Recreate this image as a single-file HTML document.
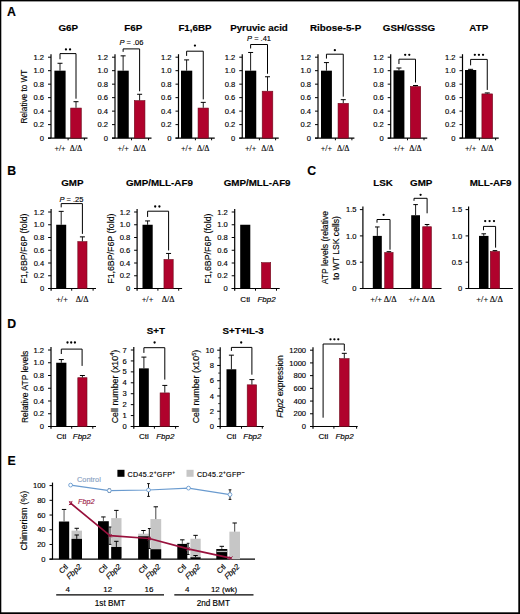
<!DOCTYPE html>
<html><head><meta charset="utf-8"><style>
html,body{margin:0;padding:0;background:#fff;}
body{width:520px;height:614px;overflow:hidden;font-family:"Liberation Sans", sans-serif;}
svg{display:block;}
text{stroke:#000;stroke-width:0.15px;}
</style></head><body>
<svg width="520" height="614" viewBox="0 0 520 614">
<rect x="0" y="0" width="520" height="614" fill="#fff"/>
<text x="7.00" y="16.00" font-size="12.3" text-anchor="start" font-weight="bold" fill="#000" font-family='"Liberation Sans", sans-serif'>A</text>
<line x1="51.00" y1="138.10" x2="51.00" y2="54.20" stroke="#000" stroke-width="1.2"/>
<line x1="48.00" y1="138.10" x2="51.00" y2="138.10" stroke="#000" stroke-width="1.0"/>
<text x="44.10" y="140.70" font-size="7.6" text-anchor="end" fill="#000" font-family='"Liberation Sans", sans-serif'>0</text>
<line x1="48.00" y1="124.62" x2="51.00" y2="124.62" stroke="#000" stroke-width="1.0"/>
<text x="44.10" y="127.22" font-size="7.6" text-anchor="end" fill="#000" font-family='"Liberation Sans", sans-serif'>0.2</text>
<line x1="48.00" y1="111.13" x2="51.00" y2="111.13" stroke="#000" stroke-width="1.0"/>
<text x="44.10" y="113.73" font-size="7.6" text-anchor="end" fill="#000" font-family='"Liberation Sans", sans-serif'>0.4</text>
<line x1="48.00" y1="97.65" x2="51.00" y2="97.65" stroke="#000" stroke-width="1.0"/>
<text x="44.10" y="100.25" font-size="7.6" text-anchor="end" fill="#000" font-family='"Liberation Sans", sans-serif'>0.6</text>
<line x1="48.00" y1="84.17" x2="51.00" y2="84.17" stroke="#000" stroke-width="1.0"/>
<text x="44.10" y="86.77" font-size="7.6" text-anchor="end" fill="#000" font-family='"Liberation Sans", sans-serif'>0.8</text>
<line x1="48.00" y1="70.68" x2="51.00" y2="70.68" stroke="#000" stroke-width="1.0"/>
<text x="44.10" y="73.28" font-size="7.6" text-anchor="end" fill="#000" font-family='"Liberation Sans", sans-serif'>1.0</text>
<line x1="48.00" y1="57.20" x2="51.00" y2="57.20" stroke="#000" stroke-width="1.0"/>
<text x="44.10" y="59.80" font-size="7.6" text-anchor="end" fill="#000" font-family='"Liberation Sans", sans-serif'>1.2</text>
<line x1="48.00" y1="138.10" x2="87.50" y2="138.10" stroke="#000" stroke-width="1.2"/>
<line x1="68.10" y1="138.10" x2="68.10" y2="140.30" stroke="#000" stroke-width="1.0"/>
<line x1="84.40" y1="138.10" x2="84.40" y2="140.30" stroke="#000" stroke-width="1.0"/>
<rect x="54.40" y="70.68" width="11.20" height="67.42" fill="#000"/>
<line x1="60.00" y1="70.68" x2="60.00" y2="63.27" stroke="#000" stroke-width="0.9"/>
<line x1="57.50" y1="63.27" x2="62.50" y2="63.27" stroke="#000" stroke-width="1.0"/>
<rect x="70.70" y="108.06" width="10.60" height="30.04" fill="#b0022c" stroke="#6e0a1c" stroke-width="0.6"/>
<line x1="76.00" y1="107.76" x2="76.00" y2="101.69" stroke="#000" stroke-width="0.9"/>
<line x1="73.50" y1="101.69" x2="78.50" y2="101.69" stroke="#000" stroke-width="1.0"/>
<path d="M60.00 59.27V53.60H76.00V98.69" fill="none" stroke="#000" stroke-width="1.0"/>
<circle cx="65.95" cy="49.40" r="1.15" fill="#000"/>
<circle cx="70.05" cy="49.40" r="1.15" fill="#000"/>
<text x="68.20" y="30.60" font-size="9.8" text-anchor="middle" font-weight="bold" fill="#000" font-family='"Liberation Sans", sans-serif'>G6P</text>
<text x="60.00" y="150.80" font-size="8.0" text-anchor="middle" fill="#000" font-family='"Liberation Serif", serif'>+/+</text>
<text x="76.00" y="150.80" font-size="8.0" text-anchor="middle" fill="#000" font-family='"Liberation Serif", serif'>&#916;/&#916;</text>
<line x1="115.00" y1="138.10" x2="115.00" y2="54.20" stroke="#000" stroke-width="1.2"/>
<line x1="112.00" y1="138.10" x2="115.00" y2="138.10" stroke="#000" stroke-width="1.0"/>
<text x="108.10" y="140.70" font-size="7.6" text-anchor="end" fill="#000" font-family='"Liberation Sans", sans-serif'>0</text>
<line x1="112.00" y1="124.62" x2="115.00" y2="124.62" stroke="#000" stroke-width="1.0"/>
<text x="108.10" y="127.22" font-size="7.6" text-anchor="end" fill="#000" font-family='"Liberation Sans", sans-serif'>0.2</text>
<line x1="112.00" y1="111.13" x2="115.00" y2="111.13" stroke="#000" stroke-width="1.0"/>
<text x="108.10" y="113.73" font-size="7.6" text-anchor="end" fill="#000" font-family='"Liberation Sans", sans-serif'>0.4</text>
<line x1="112.00" y1="97.65" x2="115.00" y2="97.65" stroke="#000" stroke-width="1.0"/>
<text x="108.10" y="100.25" font-size="7.6" text-anchor="end" fill="#000" font-family='"Liberation Sans", sans-serif'>0.6</text>
<line x1="112.00" y1="84.17" x2="115.00" y2="84.17" stroke="#000" stroke-width="1.0"/>
<text x="108.10" y="86.77" font-size="7.6" text-anchor="end" fill="#000" font-family='"Liberation Sans", sans-serif'>0.8</text>
<line x1="112.00" y1="70.68" x2="115.00" y2="70.68" stroke="#000" stroke-width="1.0"/>
<text x="108.10" y="73.28" font-size="7.6" text-anchor="end" fill="#000" font-family='"Liberation Sans", sans-serif'>1.0</text>
<line x1="112.00" y1="57.20" x2="115.00" y2="57.20" stroke="#000" stroke-width="1.0"/>
<text x="108.10" y="59.80" font-size="7.6" text-anchor="end" fill="#000" font-family='"Liberation Sans", sans-serif'>1.2</text>
<line x1="112.00" y1="138.10" x2="151.50" y2="138.10" stroke="#000" stroke-width="1.2"/>
<line x1="131.50" y1="138.10" x2="131.50" y2="140.30" stroke="#000" stroke-width="1.0"/>
<line x1="148.50" y1="138.10" x2="148.50" y2="140.30" stroke="#000" stroke-width="1.0"/>
<rect x="117.50" y="70.68" width="11.25" height="67.42" fill="#000"/>
<line x1="123.12" y1="70.68" x2="123.12" y2="55.85" stroke="#000" stroke-width="0.9"/>
<line x1="120.62" y1="55.85" x2="125.62" y2="55.85" stroke="#000" stroke-width="1.0"/>
<rect x="134.30" y="100.65" width="10.65" height="37.45" fill="#b0022c" stroke="#6e0a1c" stroke-width="0.6"/>
<line x1="139.62" y1="100.35" x2="139.62" y2="94.28" stroke="#000" stroke-width="0.9"/>
<line x1="137.12" y1="94.28" x2="142.12" y2="94.28" stroke="#000" stroke-width="1.0"/>
<path d="M123.12 51.85V48.90H139.62V91.28" fill="none" stroke="#000" stroke-width="1.0"/>
<text x="131.38" y="45.40" font-size="7.5" text-anchor="middle" fill="#000" font-family='"Liberation Sans", sans-serif'><tspan font-style="italic">P</tspan> = .06</text>
<text x="133.30" y="30.60" font-size="9.8" text-anchor="middle" font-weight="bold" fill="#000" font-family='"Liberation Sans", sans-serif'>F6P</text>
<text x="123.12" y="150.80" font-size="8.0" text-anchor="middle" fill="#000" font-family='"Liberation Serif", serif'>+/+</text>
<text x="139.62" y="150.80" font-size="8.0" text-anchor="middle" fill="#000" font-family='"Liberation Serif", serif'>&#916;/&#916;</text>
<line x1="178.50" y1="138.10" x2="178.50" y2="54.20" stroke="#000" stroke-width="1.2"/>
<line x1="175.50" y1="138.10" x2="178.50" y2="138.10" stroke="#000" stroke-width="1.0"/>
<text x="171.60" y="140.70" font-size="7.6" text-anchor="end" fill="#000" font-family='"Liberation Sans", sans-serif'>0</text>
<line x1="175.50" y1="124.62" x2="178.50" y2="124.62" stroke="#000" stroke-width="1.0"/>
<text x="171.60" y="127.22" font-size="7.6" text-anchor="end" fill="#000" font-family='"Liberation Sans", sans-serif'>0.2</text>
<line x1="175.50" y1="111.13" x2="178.50" y2="111.13" stroke="#000" stroke-width="1.0"/>
<text x="171.60" y="113.73" font-size="7.6" text-anchor="end" fill="#000" font-family='"Liberation Sans", sans-serif'>0.4</text>
<line x1="175.50" y1="97.65" x2="178.50" y2="97.65" stroke="#000" stroke-width="1.0"/>
<text x="171.60" y="100.25" font-size="7.6" text-anchor="end" fill="#000" font-family='"Liberation Sans", sans-serif'>0.6</text>
<line x1="175.50" y1="84.17" x2="178.50" y2="84.17" stroke="#000" stroke-width="1.0"/>
<text x="171.60" y="86.77" font-size="7.6" text-anchor="end" fill="#000" font-family='"Liberation Sans", sans-serif'>0.8</text>
<line x1="175.50" y1="70.68" x2="178.50" y2="70.68" stroke="#000" stroke-width="1.0"/>
<text x="171.60" y="73.28" font-size="7.6" text-anchor="end" fill="#000" font-family='"Liberation Sans", sans-serif'>1.0</text>
<line x1="175.50" y1="57.20" x2="178.50" y2="57.20" stroke="#000" stroke-width="1.0"/>
<text x="171.60" y="59.80" font-size="7.6" text-anchor="end" fill="#000" font-family='"Liberation Sans", sans-serif'>1.2</text>
<line x1="175.50" y1="138.10" x2="214.75" y2="138.10" stroke="#000" stroke-width="1.2"/>
<line x1="195.40" y1="138.10" x2="195.40" y2="140.30" stroke="#000" stroke-width="1.0"/>
<line x1="211.60" y1="138.10" x2="211.60" y2="140.30" stroke="#000" stroke-width="1.0"/>
<rect x="181.00" y="70.68" width="11.25" height="67.42" fill="#000"/>
<line x1="186.62" y1="70.68" x2="186.62" y2="59.90" stroke="#000" stroke-width="0.9"/>
<line x1="184.12" y1="59.90" x2="189.12" y2="59.90" stroke="#000" stroke-width="1.0"/>
<rect x="198.05" y="108.06" width="10.40" height="30.04" fill="#b0022c" stroke="#6e0a1c" stroke-width="0.6"/>
<line x1="203.25" y1="107.76" x2="203.25" y2="102.37" stroke="#000" stroke-width="0.9"/>
<line x1="200.75" y1="102.37" x2="205.75" y2="102.37" stroke="#000" stroke-width="1.0"/>
<path d="M186.62 55.90V51.20H203.25V99.37" fill="none" stroke="#000" stroke-width="1.0"/>
<circle cx="194.94" cy="45.60" r="1.15" fill="#000"/>
<text x="195.00" y="30.60" font-size="9.8" text-anchor="middle" font-weight="bold" fill="#000" font-family='"Liberation Sans", sans-serif'>F1,6BP</text>
<text x="186.62" y="150.80" font-size="8.0" text-anchor="middle" fill="#000" font-family='"Liberation Serif", serif'>+/+</text>
<text x="203.25" y="150.80" font-size="8.0" text-anchor="middle" fill="#000" font-family='"Liberation Serif", serif'>&#916;/&#916;</text>
<line x1="242.25" y1="138.10" x2="242.25" y2="54.20" stroke="#000" stroke-width="1.2"/>
<line x1="239.25" y1="138.10" x2="242.25" y2="138.10" stroke="#000" stroke-width="1.0"/>
<text x="235.35" y="140.70" font-size="7.6" text-anchor="end" fill="#000" font-family='"Liberation Sans", sans-serif'>0</text>
<line x1="239.25" y1="124.62" x2="242.25" y2="124.62" stroke="#000" stroke-width="1.0"/>
<text x="235.35" y="127.22" font-size="7.6" text-anchor="end" fill="#000" font-family='"Liberation Sans", sans-serif'>0.2</text>
<line x1="239.25" y1="111.13" x2="242.25" y2="111.13" stroke="#000" stroke-width="1.0"/>
<text x="235.35" y="113.73" font-size="7.6" text-anchor="end" fill="#000" font-family='"Liberation Sans", sans-serif'>0.4</text>
<line x1="239.25" y1="97.65" x2="242.25" y2="97.65" stroke="#000" stroke-width="1.0"/>
<text x="235.35" y="100.25" font-size="7.6" text-anchor="end" fill="#000" font-family='"Liberation Sans", sans-serif'>0.6</text>
<line x1="239.25" y1="84.17" x2="242.25" y2="84.17" stroke="#000" stroke-width="1.0"/>
<text x="235.35" y="86.77" font-size="7.6" text-anchor="end" fill="#000" font-family='"Liberation Sans", sans-serif'>0.8</text>
<line x1="239.25" y1="70.68" x2="242.25" y2="70.68" stroke="#000" stroke-width="1.0"/>
<text x="235.35" y="73.28" font-size="7.6" text-anchor="end" fill="#000" font-family='"Liberation Sans", sans-serif'>1.0</text>
<line x1="239.25" y1="57.20" x2="242.25" y2="57.20" stroke="#000" stroke-width="1.0"/>
<text x="235.35" y="59.80" font-size="7.6" text-anchor="end" fill="#000" font-family='"Liberation Sans", sans-serif'>1.2</text>
<line x1="239.25" y1="138.10" x2="278.75" y2="138.10" stroke="#000" stroke-width="1.2"/>
<line x1="259.40" y1="138.10" x2="259.40" y2="140.30" stroke="#000" stroke-width="1.0"/>
<line x1="275.60" y1="138.10" x2="275.60" y2="140.30" stroke="#000" stroke-width="1.0"/>
<rect x="245.00" y="70.68" width="11.25" height="67.42" fill="#000"/>
<line x1="250.62" y1="70.68" x2="250.62" y2="52.48" stroke="#000" stroke-width="0.9"/>
<line x1="248.12" y1="52.48" x2="253.12" y2="52.48" stroke="#000" stroke-width="1.0"/>
<rect x="262.20" y="91.21" width="10.60" height="46.89" fill="#b0022c" stroke="#6e0a1c" stroke-width="0.6"/>
<line x1="267.50" y1="90.91" x2="267.50" y2="76.75" stroke="#000" stroke-width="0.9"/>
<line x1="265.00" y1="76.75" x2="270.00" y2="76.75" stroke="#000" stroke-width="1.0"/>
<path d="M250.62 48.48V44.50H267.50V73.75" fill="none" stroke="#000" stroke-width="1.0"/>
<text x="259.06" y="40.60" font-size="7.5" text-anchor="middle" fill="#000" font-family='"Liberation Sans", sans-serif'><tspan font-style="italic">P</tspan> = .41</text>
<text x="259.00" y="30.60" font-size="9.8" text-anchor="middle" font-weight="bold" fill="#000" font-family='"Liberation Sans", sans-serif'>Pyruvic acid</text>
<text x="250.62" y="150.80" font-size="8.0" text-anchor="middle" fill="#000" font-family='"Liberation Serif", serif'>+/+</text>
<text x="267.50" y="150.80" font-size="8.0" text-anchor="middle" fill="#000" font-family='"Liberation Serif", serif'>&#916;/&#916;</text>
<line x1="318.00" y1="138.10" x2="318.00" y2="54.20" stroke="#000" stroke-width="1.2"/>
<line x1="315.00" y1="138.10" x2="318.00" y2="138.10" stroke="#000" stroke-width="1.0"/>
<text x="311.10" y="140.70" font-size="7.6" text-anchor="end" fill="#000" font-family='"Liberation Sans", sans-serif'>0</text>
<line x1="315.00" y1="124.62" x2="318.00" y2="124.62" stroke="#000" stroke-width="1.0"/>
<text x="311.10" y="127.22" font-size="7.6" text-anchor="end" fill="#000" font-family='"Liberation Sans", sans-serif'>0.2</text>
<line x1="315.00" y1="111.13" x2="318.00" y2="111.13" stroke="#000" stroke-width="1.0"/>
<text x="311.10" y="113.73" font-size="7.6" text-anchor="end" fill="#000" font-family='"Liberation Sans", sans-serif'>0.4</text>
<line x1="315.00" y1="97.65" x2="318.00" y2="97.65" stroke="#000" stroke-width="1.0"/>
<text x="311.10" y="100.25" font-size="7.6" text-anchor="end" fill="#000" font-family='"Liberation Sans", sans-serif'>0.6</text>
<line x1="315.00" y1="84.17" x2="318.00" y2="84.17" stroke="#000" stroke-width="1.0"/>
<text x="311.10" y="86.77" font-size="7.6" text-anchor="end" fill="#000" font-family='"Liberation Sans", sans-serif'>0.8</text>
<line x1="315.00" y1="70.68" x2="318.00" y2="70.68" stroke="#000" stroke-width="1.0"/>
<text x="311.10" y="73.28" font-size="7.6" text-anchor="end" fill="#000" font-family='"Liberation Sans", sans-serif'>1.0</text>
<line x1="315.00" y1="57.20" x2="318.00" y2="57.20" stroke="#000" stroke-width="1.0"/>
<text x="311.10" y="59.80" font-size="7.6" text-anchor="end" fill="#000" font-family='"Liberation Sans", sans-serif'>1.2</text>
<line x1="315.00" y1="138.10" x2="354.40" y2="138.10" stroke="#000" stroke-width="1.2"/>
<line x1="335.40" y1="138.10" x2="335.40" y2="140.30" stroke="#000" stroke-width="1.0"/>
<line x1="351.90" y1="138.10" x2="351.90" y2="140.30" stroke="#000" stroke-width="1.0"/>
<rect x="321.00" y="70.68" width="10.90" height="67.42" fill="#000"/>
<line x1="326.45" y1="70.68" x2="326.45" y2="62.59" stroke="#000" stroke-width="0.9"/>
<line x1="323.95" y1="62.59" x2="328.95" y2="62.59" stroke="#000" stroke-width="1.0"/>
<rect x="338.05" y="103.34" width="10.40" height="34.76" fill="#b0022c" stroke="#6e0a1c" stroke-width="0.6"/>
<line x1="343.25" y1="103.04" x2="343.25" y2="99.67" stroke="#000" stroke-width="0.9"/>
<line x1="340.75" y1="99.67" x2="345.75" y2="99.67" stroke="#000" stroke-width="1.0"/>
<path d="M326.45 58.59V54.20H343.25V96.67" fill="none" stroke="#000" stroke-width="1.0"/>
<circle cx="334.85" cy="50.20" r="1.15" fill="#000"/>
<text x="335.60" y="30.60" font-size="9.8" text-anchor="middle" font-weight="bold" fill="#000" font-family='"Liberation Sans", sans-serif'>Ribose-5-P</text>
<text x="326.45" y="150.80" font-size="8.0" text-anchor="middle" fill="#000" font-family='"Liberation Serif", serif'>+/+</text>
<text x="343.25" y="150.80" font-size="8.0" text-anchor="middle" fill="#000" font-family='"Liberation Serif", serif'>&#916;/&#916;</text>
<line x1="390.70" y1="138.10" x2="390.70" y2="54.20" stroke="#000" stroke-width="1.2"/>
<line x1="387.70" y1="138.10" x2="390.70" y2="138.10" stroke="#000" stroke-width="1.0"/>
<text x="383.80" y="140.70" font-size="7.6" text-anchor="end" fill="#000" font-family='"Liberation Sans", sans-serif'>0</text>
<line x1="387.70" y1="124.62" x2="390.70" y2="124.62" stroke="#000" stroke-width="1.0"/>
<text x="383.80" y="127.22" font-size="7.6" text-anchor="end" fill="#000" font-family='"Liberation Sans", sans-serif'>0.2</text>
<line x1="387.70" y1="111.13" x2="390.70" y2="111.13" stroke="#000" stroke-width="1.0"/>
<text x="383.80" y="113.73" font-size="7.6" text-anchor="end" fill="#000" font-family='"Liberation Sans", sans-serif'>0.4</text>
<line x1="387.70" y1="97.65" x2="390.70" y2="97.65" stroke="#000" stroke-width="1.0"/>
<text x="383.80" y="100.25" font-size="7.6" text-anchor="end" fill="#000" font-family='"Liberation Sans", sans-serif'>0.6</text>
<line x1="387.70" y1="84.17" x2="390.70" y2="84.17" stroke="#000" stroke-width="1.0"/>
<text x="383.80" y="86.77" font-size="7.6" text-anchor="end" fill="#000" font-family='"Liberation Sans", sans-serif'>0.8</text>
<line x1="387.70" y1="70.68" x2="390.70" y2="70.68" stroke="#000" stroke-width="1.0"/>
<text x="383.80" y="73.28" font-size="7.6" text-anchor="end" fill="#000" font-family='"Liberation Sans", sans-serif'>1.0</text>
<line x1="387.70" y1="57.20" x2="390.70" y2="57.20" stroke="#000" stroke-width="1.0"/>
<text x="383.80" y="59.80" font-size="7.6" text-anchor="end" fill="#000" font-family='"Liberation Sans", sans-serif'>1.2</text>
<line x1="387.70" y1="138.10" x2="427.25" y2="138.10" stroke="#000" stroke-width="1.2"/>
<line x1="407.50" y1="138.10" x2="407.50" y2="140.30" stroke="#000" stroke-width="1.0"/>
<line x1="424.00" y1="138.10" x2="424.00" y2="140.30" stroke="#000" stroke-width="1.0"/>
<rect x="393.50" y="70.35" width="10.90" height="67.75" fill="#000"/>
<line x1="398.95" y1="70.35" x2="398.95" y2="67.99" stroke="#000" stroke-width="0.9"/>
<line x1="396.45" y1="67.99" x2="401.45" y2="67.99" stroke="#000" stroke-width="1.0"/>
<rect x="410.30" y="86.49" width="10.40" height="51.61" fill="#b0022c" stroke="#6e0a1c" stroke-width="0.6"/>
<line x1="415.50" y1="86.19" x2="415.50" y2="85.52" stroke="#000" stroke-width="0.9"/>
<line x1="413.00" y1="85.52" x2="418.00" y2="85.52" stroke="#000" stroke-width="1.0"/>
<path d="M398.95 63.99V59.20H415.50V82.52" fill="none" stroke="#000" stroke-width="1.0"/>
<circle cx="405.18" cy="54.80" r="1.15" fill="#000"/>
<circle cx="409.28" cy="54.80" r="1.15" fill="#000"/>
<text x="409.00" y="30.60" font-size="9.8" text-anchor="middle" font-weight="bold" fill="#000" font-family='"Liberation Sans", sans-serif'>GSH/GSSG</text>
<text x="398.95" y="150.80" font-size="8.0" text-anchor="middle" fill="#000" font-family='"Liberation Serif", serif'>+/+</text>
<text x="415.50" y="150.80" font-size="8.0" text-anchor="middle" fill="#000" font-family='"Liberation Serif", serif'>&#916;/&#916;</text>
<line x1="462.50" y1="138.10" x2="462.50" y2="54.20" stroke="#000" stroke-width="1.2"/>
<line x1="459.50" y1="138.10" x2="462.50" y2="138.10" stroke="#000" stroke-width="1.0"/>
<text x="455.60" y="140.70" font-size="7.6" text-anchor="end" fill="#000" font-family='"Liberation Sans", sans-serif'>0</text>
<line x1="459.50" y1="124.62" x2="462.50" y2="124.62" stroke="#000" stroke-width="1.0"/>
<text x="455.60" y="127.22" font-size="7.6" text-anchor="end" fill="#000" font-family='"Liberation Sans", sans-serif'>0.2</text>
<line x1="459.50" y1="111.13" x2="462.50" y2="111.13" stroke="#000" stroke-width="1.0"/>
<text x="455.60" y="113.73" font-size="7.6" text-anchor="end" fill="#000" font-family='"Liberation Sans", sans-serif'>0.4</text>
<line x1="459.50" y1="97.65" x2="462.50" y2="97.65" stroke="#000" stroke-width="1.0"/>
<text x="455.60" y="100.25" font-size="7.6" text-anchor="end" fill="#000" font-family='"Liberation Sans", sans-serif'>0.6</text>
<line x1="459.50" y1="84.17" x2="462.50" y2="84.17" stroke="#000" stroke-width="1.0"/>
<text x="455.60" y="86.77" font-size="7.6" text-anchor="end" fill="#000" font-family='"Liberation Sans", sans-serif'>0.8</text>
<line x1="459.50" y1="70.68" x2="462.50" y2="70.68" stroke="#000" stroke-width="1.0"/>
<text x="455.60" y="73.28" font-size="7.6" text-anchor="end" fill="#000" font-family='"Liberation Sans", sans-serif'>1.0</text>
<line x1="459.50" y1="57.20" x2="462.50" y2="57.20" stroke="#000" stroke-width="1.0"/>
<text x="455.60" y="59.80" font-size="7.6" text-anchor="end" fill="#000" font-family='"Liberation Sans", sans-serif'>1.2</text>
<line x1="459.50" y1="138.10" x2="498.75" y2="138.10" stroke="#000" stroke-width="1.2"/>
<line x1="479.40" y1="138.10" x2="479.40" y2="140.30" stroke="#000" stroke-width="1.0"/>
<line x1="495.60" y1="138.10" x2="495.60" y2="140.30" stroke="#000" stroke-width="1.0"/>
<rect x="465.00" y="70.01" width="11.25" height="68.09" fill="#000"/>
<line x1="470.62" y1="70.01" x2="470.62" y2="69.34" stroke="#000" stroke-width="0.9"/>
<line x1="468.12" y1="69.34" x2="473.12" y2="69.34" stroke="#000" stroke-width="1.0"/>
<rect x="481.90" y="93.90" width="10.70" height="44.20" fill="#b0022c" stroke="#6e0a1c" stroke-width="0.6"/>
<line x1="487.25" y1="93.60" x2="487.25" y2="92.93" stroke="#000" stroke-width="0.9"/>
<line x1="484.75" y1="92.93" x2="489.75" y2="92.93" stroke="#000" stroke-width="1.0"/>
<path d="M470.62 65.34V59.40H487.25V89.93" fill="none" stroke="#000" stroke-width="1.0"/>
<circle cx="474.84" cy="54.80" r="1.15" fill="#000"/>
<circle cx="478.94" cy="54.80" r="1.15" fill="#000"/>
<circle cx="483.04" cy="54.80" r="1.15" fill="#000"/>
<text x="478.80" y="30.60" font-size="9.8" text-anchor="middle" font-weight="bold" fill="#000" font-family='"Liberation Sans", sans-serif'>ATP</text>
<text x="470.62" y="150.80" font-size="8.0" text-anchor="middle" fill="#000" font-family='"Liberation Serif", serif'>+/+</text>
<text x="487.25" y="150.80" font-size="8.0" text-anchor="middle" fill="#000" font-family='"Liberation Serif", serif'>&#916;/&#916;</text>
<text x="27.40" y="96.60" font-size="8.2" text-anchor="middle" fill="#000" font-family='"Liberation Sans", sans-serif' transform="rotate(-90 27.40 96.60)">Relative to WT</text>
<text x="7.30" y="174.70" font-size="12.3" text-anchor="start" font-weight="bold" fill="#000" font-family='"Liberation Sans", sans-serif'>B</text>
<line x1="51.10" y1="290.70" x2="51.10" y2="209.00" stroke="#000" stroke-width="1.2"/>
<line x1="48.10" y1="288.50" x2="51.10" y2="288.50" stroke="#000" stroke-width="1.0"/>
<text x="44.20" y="291.10" font-size="7.6" text-anchor="end" fill="#000" font-family='"Liberation Sans", sans-serif'>0</text>
<line x1="48.10" y1="275.75" x2="51.10" y2="275.75" stroke="#000" stroke-width="1.0"/>
<text x="44.20" y="278.35" font-size="7.6" text-anchor="end" fill="#000" font-family='"Liberation Sans", sans-serif'>0.2</text>
<line x1="48.10" y1="263.00" x2="51.10" y2="263.00" stroke="#000" stroke-width="1.0"/>
<text x="44.20" y="265.60" font-size="7.6" text-anchor="end" fill="#000" font-family='"Liberation Sans", sans-serif'>0.4</text>
<line x1="48.10" y1="250.25" x2="51.10" y2="250.25" stroke="#000" stroke-width="1.0"/>
<text x="44.20" y="252.85" font-size="7.6" text-anchor="end" fill="#000" font-family='"Liberation Sans", sans-serif'>0.6</text>
<line x1="48.10" y1="237.50" x2="51.10" y2="237.50" stroke="#000" stroke-width="1.0"/>
<text x="44.20" y="240.10" font-size="7.6" text-anchor="end" fill="#000" font-family='"Liberation Sans", sans-serif'>0.8</text>
<line x1="48.10" y1="224.75" x2="51.10" y2="224.75" stroke="#000" stroke-width="1.0"/>
<text x="44.20" y="227.35" font-size="7.6" text-anchor="end" fill="#000" font-family='"Liberation Sans", sans-serif'>1.0</text>
<line x1="48.10" y1="212.00" x2="51.10" y2="212.00" stroke="#000" stroke-width="1.0"/>
<text x="44.20" y="214.60" font-size="7.6" text-anchor="end" fill="#000" font-family='"Liberation Sans", sans-serif'>1.2</text>
<line x1="48.10" y1="288.50" x2="96.00" y2="288.50" stroke="#000" stroke-width="1.2"/>
<line x1="71.70" y1="288.50" x2="71.70" y2="290.70" stroke="#000" stroke-width="1.0"/>
<line x1="93.10" y1="288.50" x2="93.10" y2="290.70" stroke="#000" stroke-width="1.0"/>
<rect x="56.20" y="224.75" width="10.00" height="63.75" fill="#000"/>
<line x1="61.20" y1="224.75" x2="61.20" y2="211.36" stroke="#000" stroke-width="0.9"/>
<line x1="58.70" y1="211.36" x2="63.70" y2="211.36" stroke="#000" stroke-width="1.0"/>
<rect x="77.80" y="241.62" width="9.20" height="46.88" fill="#b0022c" stroke="#6e0a1c" stroke-width="0.6"/>
<line x1="82.40" y1="241.32" x2="82.40" y2="236.86" stroke="#000" stroke-width="0.9"/>
<line x1="79.90" y1="236.86" x2="84.90" y2="236.86" stroke="#000" stroke-width="1.0"/>
<path d="M61.20 207.36V203.60H82.40V233.86" fill="none" stroke="#000" stroke-width="1.0"/>
<text x="71.40" y="201.50" font-size="7.5" text-anchor="middle" fill="#000" font-family='"Liberation Sans", sans-serif'><tspan font-style="italic">P</tspan> = .25</text>
<text x="72.30" y="185.90" font-size="9.8" text-anchor="middle" font-weight="bold" fill="#000" font-family='"Liberation Sans", sans-serif'>GMP</text>
<text x="62.00" y="302.00" font-size="8.2" text-anchor="middle" fill="#000" font-family='"Liberation Serif", serif'>+/+</text>
<text x="82.20" y="302.00" font-size="8.2" text-anchor="middle" fill="#000" font-family='"Liberation Serif", serif'>&#916;/&#916;</text>
<text x="27.50" y="248.60" font-size="8.8" text-anchor="middle" fill="#000" font-family='"Liberation Sans", sans-serif' transform="rotate(-90 27.50 248.60)">F1,6BP/F6P (fold)</text>
<line x1="137.10" y1="290.70" x2="137.10" y2="209.00" stroke="#000" stroke-width="1.2"/>
<line x1="134.10" y1="288.50" x2="137.10" y2="288.50" stroke="#000" stroke-width="1.0"/>
<text x="130.20" y="291.10" font-size="7.6" text-anchor="end" fill="#000" font-family='"Liberation Sans", sans-serif'>0</text>
<line x1="134.10" y1="275.75" x2="137.10" y2="275.75" stroke="#000" stroke-width="1.0"/>
<text x="130.20" y="278.35" font-size="7.6" text-anchor="end" fill="#000" font-family='"Liberation Sans", sans-serif'>0.2</text>
<line x1="134.10" y1="263.00" x2="137.10" y2="263.00" stroke="#000" stroke-width="1.0"/>
<text x="130.20" y="265.60" font-size="7.6" text-anchor="end" fill="#000" font-family='"Liberation Sans", sans-serif'>0.4</text>
<line x1="134.10" y1="250.25" x2="137.10" y2="250.25" stroke="#000" stroke-width="1.0"/>
<text x="130.20" y="252.85" font-size="7.6" text-anchor="end" fill="#000" font-family='"Liberation Sans", sans-serif'>0.6</text>
<line x1="134.10" y1="237.50" x2="137.10" y2="237.50" stroke="#000" stroke-width="1.0"/>
<text x="130.20" y="240.10" font-size="7.6" text-anchor="end" fill="#000" font-family='"Liberation Sans", sans-serif'>0.8</text>
<line x1="134.10" y1="224.75" x2="137.10" y2="224.75" stroke="#000" stroke-width="1.0"/>
<text x="130.20" y="227.35" font-size="7.6" text-anchor="end" fill="#000" font-family='"Liberation Sans", sans-serif'>1.0</text>
<line x1="134.10" y1="212.00" x2="137.10" y2="212.00" stroke="#000" stroke-width="1.0"/>
<text x="130.20" y="214.60" font-size="7.6" text-anchor="end" fill="#000" font-family='"Liberation Sans", sans-serif'>1.2</text>
<line x1="134.10" y1="288.50" x2="182.10" y2="288.50" stroke="#000" stroke-width="1.2"/>
<line x1="157.90" y1="288.50" x2="157.90" y2="290.70" stroke="#000" stroke-width="1.0"/>
<line x1="178.70" y1="288.50" x2="178.70" y2="290.70" stroke="#000" stroke-width="1.0"/>
<rect x="142.50" y="224.75" width="10.20" height="63.75" fill="#000"/>
<line x1="147.60" y1="224.75" x2="147.60" y2="220.93" stroke="#000" stroke-width="0.9"/>
<line x1="145.10" y1="220.93" x2="150.10" y2="220.93" stroke="#000" stroke-width="1.0"/>
<rect x="163.95" y="259.48" width="9.25" height="29.02" fill="#b0022c" stroke="#6e0a1c" stroke-width="0.6"/>
<line x1="168.57" y1="259.18" x2="168.57" y2="253.44" stroke="#000" stroke-width="0.9"/>
<line x1="166.07" y1="253.44" x2="171.07" y2="253.44" stroke="#000" stroke-width="1.0"/>
<path d="M147.60 216.93V211.20H168.60V250.44" fill="none" stroke="#000" stroke-width="1.0"/>
<circle cx="155.20" cy="206.50" r="1.15" fill="#000"/>
<circle cx="159.40" cy="206.50" r="1.15" fill="#000"/>
<text x="159.40" y="185.90" font-size="9.8" text-anchor="middle" font-weight="bold" fill="#000" font-family='"Liberation Sans", sans-serif'>GMP/MLL-AF9</text>
<text x="147.50" y="302.00" font-size="8.2" text-anchor="middle" fill="#000" font-family='"Liberation Serif", serif'>+/+</text>
<text x="168.20" y="302.00" font-size="8.2" text-anchor="middle" fill="#000" font-family='"Liberation Serif", serif'>&#916;/&#916;</text>
<text x="113.70" y="248.60" font-size="8.8" text-anchor="middle" fill="#000" font-family='"Liberation Sans", sans-serif' transform="rotate(-90 113.70 248.60)">F1,6BP/F6P (fold)</text>
<line x1="234.70" y1="290.70" x2="234.70" y2="209.00" stroke="#000" stroke-width="1.2"/>
<line x1="231.70" y1="288.50" x2="234.70" y2="288.50" stroke="#000" stroke-width="1.0"/>
<text x="227.80" y="291.10" font-size="7.6" text-anchor="end" fill="#000" font-family='"Liberation Sans", sans-serif'>0</text>
<line x1="231.70" y1="275.75" x2="234.70" y2="275.75" stroke="#000" stroke-width="1.0"/>
<text x="227.80" y="278.35" font-size="7.6" text-anchor="end" fill="#000" font-family='"Liberation Sans", sans-serif'>0.2</text>
<line x1="231.70" y1="263.00" x2="234.70" y2="263.00" stroke="#000" stroke-width="1.0"/>
<text x="227.80" y="265.60" font-size="7.6" text-anchor="end" fill="#000" font-family='"Liberation Sans", sans-serif'>0.4</text>
<line x1="231.70" y1="250.25" x2="234.70" y2="250.25" stroke="#000" stroke-width="1.0"/>
<text x="227.80" y="252.85" font-size="7.6" text-anchor="end" fill="#000" font-family='"Liberation Sans", sans-serif'>0.6</text>
<line x1="231.70" y1="237.50" x2="234.70" y2="237.50" stroke="#000" stroke-width="1.0"/>
<text x="227.80" y="240.10" font-size="7.6" text-anchor="end" fill="#000" font-family='"Liberation Sans", sans-serif'>0.8</text>
<line x1="231.70" y1="224.75" x2="234.70" y2="224.75" stroke="#000" stroke-width="1.0"/>
<text x="227.80" y="227.35" font-size="7.6" text-anchor="end" fill="#000" font-family='"Liberation Sans", sans-serif'>1.0</text>
<line x1="231.70" y1="212.00" x2="234.70" y2="212.00" stroke="#000" stroke-width="1.0"/>
<text x="227.80" y="214.60" font-size="7.6" text-anchor="end" fill="#000" font-family='"Liberation Sans", sans-serif'>1.2</text>
<line x1="231.70" y1="288.50" x2="279.70" y2="288.50" stroke="#000" stroke-width="1.2"/>
<line x1="255.50" y1="288.50" x2="255.50" y2="290.70" stroke="#000" stroke-width="1.0"/>
<line x1="276.50" y1="288.50" x2="276.50" y2="290.70" stroke="#000" stroke-width="1.0"/>
<rect x="240.20" y="224.75" width="10.10" height="63.75" fill="#000"/>
<rect x="261.50" y="262.66" width="9.20" height="25.84" fill="#b0022c" stroke="#6e0a1c" stroke-width="0.6"/>
<text x="257.10" y="185.90" font-size="9.8" text-anchor="middle" font-weight="bold" fill="#000" font-family='"Liberation Sans", sans-serif'>GMP/MLL-AF9</text>
<text x="245.25" y="301.60" font-size="8.0" text-anchor="middle" fill="#000" font-family='"Liberation Sans", sans-serif'>Ctl</text>
<text x="266.50" y="301.60" font-size="8.0" text-anchor="middle" font-style="italic" fill="#000" font-family='"Liberation Sans", sans-serif'>Fbp2</text>
<text x="211.20" y="248.60" font-size="8.8" text-anchor="middle" fill="#000" font-family='"Liberation Sans", sans-serif' transform="rotate(-90 211.20 248.60)">F1,6BP/F6P (fold)</text>
<text x="307.20" y="174.70" font-size="12.3" text-anchor="start" font-weight="bold" fill="#000" font-family='"Liberation Sans", sans-serif'>C</text>
<line x1="362.90" y1="288.50" x2="362.90" y2="206.60" stroke="#000" stroke-width="1.2"/>
<line x1="359.90" y1="288.50" x2="362.90" y2="288.50" stroke="#000" stroke-width="1.0"/>
<text x="356.50" y="291.10" font-size="7.6" text-anchor="end" fill="#000" font-family='"Liberation Sans", sans-serif'>0</text>
<line x1="359.90" y1="262.20" x2="362.90" y2="262.20" stroke="#000" stroke-width="1.0"/>
<text x="356.50" y="264.80" font-size="7.6" text-anchor="end" fill="#000" font-family='"Liberation Sans", sans-serif'>0.5</text>
<line x1="359.90" y1="235.90" x2="362.90" y2="235.90" stroke="#000" stroke-width="1.0"/>
<text x="356.50" y="238.50" font-size="7.6" text-anchor="end" fill="#000" font-family='"Liberation Sans", sans-serif'>1.0</text>
<line x1="359.90" y1="209.60" x2="362.90" y2="209.60" stroke="#000" stroke-width="1.0"/>
<text x="356.50" y="212.20" font-size="7.6" text-anchor="end" fill="#000" font-family='"Liberation Sans", sans-serif'>1.5</text>
<line x1="359.90" y1="288.50" x2="441.50" y2="288.50" stroke="#000" stroke-width="1.2"/>
<rect x="372.80" y="235.90" width="9.00" height="52.60" fill="#000"/>
<line x1="377.30" y1="235.90" x2="377.30" y2="226.96" stroke="#000" stroke-width="0.9"/>
<line x1="375.00" y1="226.96" x2="379.60" y2="226.96" stroke="#000" stroke-width="1.0"/>
<rect x="384.70" y="252.51" width="8.40" height="35.99" fill="#b0022c" stroke="#6e0a1c" stroke-width="0.6"/>
<line x1="388.90" y1="252.21" x2="388.90" y2="251.68" stroke="#000" stroke-width="0.9"/>
<line x1="386.60" y1="251.68" x2="391.20" y2="251.68" stroke="#000" stroke-width="1.0"/>
<rect x="411.20" y="215.23" width="8.80" height="73.27" fill="#000"/>
<line x1="415.60" y1="215.23" x2="415.60" y2="204.60" stroke="#000" stroke-width="0.9"/>
<line x1="413.30" y1="204.60" x2="417.90" y2="204.60" stroke="#000" stroke-width="1.0"/>
<rect x="422.70" y="226.73" width="8.70" height="61.77" fill="#b0022c" stroke="#6e0a1c" stroke-width="0.6"/>
<line x1="427.05" y1="226.43" x2="427.05" y2="224.49" stroke="#000" stroke-width="0.9"/>
<line x1="424.75" y1="224.49" x2="429.35" y2="224.49" stroke="#000" stroke-width="1.0"/>
<path d="M377.00 222.70V219.50H390.00V249.68" fill="none" stroke="#000" stroke-width="1.0"/>
<circle cx="383.60" cy="214.80" r="1.15" fill="#000"/>
<path d="M414.00 200.80V198.30H427.10V213.30" fill="none" stroke="#000" stroke-width="1.0"/>
<circle cx="420.60" cy="194.80" r="1.15" fill="#000"/>
<text x="383.10" y="185.90" font-size="9.8" text-anchor="middle" font-weight="bold" fill="#000" font-family='"Liberation Sans", sans-serif'>LSK</text>
<text x="421.20" y="185.90" font-size="9.8" text-anchor="middle" font-weight="bold" fill="#000" font-family='"Liberation Sans", sans-serif'>GMP</text>
<text x="383.5" y="301.6" font-size="8.4" text-anchor="middle" fill="#000" font-family='"Liberation Serif", serif'>+/+ &#916;/&#916;</text>
<text x="421.7" y="301.6" font-size="8.4" text-anchor="middle" fill="#000" font-family='"Liberation Serif", serif'>+/+ &#916;/&#916;</text>
<text x="327.60" y="247.60" font-size="8.6" text-anchor="middle" fill="#000" font-family='"Liberation Sans", sans-serif' transform="rotate(-90 327.60 247.60)">ATP levels (relative</text>
<text x="339.40" y="248.00" font-size="8.6" text-anchor="middle" fill="#000" font-family='"Liberation Sans", sans-serif' transform="rotate(-90 339.40 248.00)">to WT LSK cells)</text>
<line x1="468.60" y1="288.50" x2="468.60" y2="206.60" stroke="#000" stroke-width="1.2"/>
<line x1="465.60" y1="288.50" x2="468.60" y2="288.50" stroke="#000" stroke-width="1.0"/>
<text x="462.20" y="291.10" font-size="7.6" text-anchor="end" fill="#000" font-family='"Liberation Sans", sans-serif'>0</text>
<line x1="465.60" y1="262.20" x2="468.60" y2="262.20" stroke="#000" stroke-width="1.0"/>
<text x="462.20" y="264.80" font-size="7.6" text-anchor="end" fill="#000" font-family='"Liberation Sans", sans-serif'>0.5</text>
<line x1="465.60" y1="235.90" x2="468.60" y2="235.90" stroke="#000" stroke-width="1.0"/>
<text x="462.20" y="238.50" font-size="7.6" text-anchor="end" fill="#000" font-family='"Liberation Sans", sans-serif'>1.0</text>
<line x1="465.60" y1="209.60" x2="468.60" y2="209.60" stroke="#000" stroke-width="1.0"/>
<text x="462.20" y="212.20" font-size="7.6" text-anchor="end" fill="#000" font-family='"Liberation Sans", sans-serif'>1.5</text>
<line x1="465.60" y1="288.50" x2="512.90" y2="288.50" stroke="#000" stroke-width="1.2"/>
<rect x="479.00" y="235.90" width="9.50" height="52.60" fill="#000"/>
<line x1="483.75" y1="235.90" x2="483.75" y2="233.80" stroke="#000" stroke-width="0.9"/>
<line x1="481.45" y1="233.80" x2="486.05" y2="233.80" stroke="#000" stroke-width="1.0"/>
<rect x="490.30" y="251.45" width="9.30" height="37.05" fill="#b0022c" stroke="#6e0a1c" stroke-width="0.6"/>
<line x1="494.95" y1="251.15" x2="494.95" y2="250.63" stroke="#000" stroke-width="0.9"/>
<line x1="492.65" y1="250.63" x2="497.25" y2="250.63" stroke="#000" stroke-width="1.0"/>
<path d="M483.50 230.30V226.40H495.60V247.63" fill="none" stroke="#000" stroke-width="1.0"/>
<circle cx="485.20" cy="221.10" r="1.15" fill="#000"/>
<circle cx="489.60" cy="221.10" r="1.15" fill="#000"/>
<circle cx="494.00" cy="221.10" r="1.15" fill="#000"/>
<text x="490.60" y="185.90" font-size="9.8" text-anchor="middle" font-weight="bold" fill="#000" font-family='"Liberation Sans", sans-serif'>MLL-AF9</text>
<text x="489.6" y="301.6" font-size="8.4" text-anchor="middle" fill="#000" font-family='"Liberation Serif", serif'>+/+ &#916;/&#916;</text>
<text x="7.30" y="327.50" font-size="12.3" text-anchor="start" font-weight="bold" fill="#000" font-family='"Liberation Sans", sans-serif'>D</text>
<line x1="51.00" y1="428.70" x2="51.00" y2="347.00" stroke="#000" stroke-width="1.2"/>
<line x1="48.00" y1="426.50" x2="51.00" y2="426.50" stroke="#000" stroke-width="1.0"/>
<text x="44.10" y="429.10" font-size="7.6" text-anchor="end" fill="#000" font-family='"Liberation Sans", sans-serif'>0</text>
<line x1="48.00" y1="413.75" x2="51.00" y2="413.75" stroke="#000" stroke-width="1.0"/>
<text x="44.10" y="416.35" font-size="7.6" text-anchor="end" fill="#000" font-family='"Liberation Sans", sans-serif'>0.2</text>
<line x1="48.00" y1="401.00" x2="51.00" y2="401.00" stroke="#000" stroke-width="1.0"/>
<text x="44.10" y="403.60" font-size="7.6" text-anchor="end" fill="#000" font-family='"Liberation Sans", sans-serif'>0.4</text>
<line x1="48.00" y1="388.25" x2="51.00" y2="388.25" stroke="#000" stroke-width="1.0"/>
<text x="44.10" y="390.85" font-size="7.6" text-anchor="end" fill="#000" font-family='"Liberation Sans", sans-serif'>0.6</text>
<line x1="48.00" y1="375.50" x2="51.00" y2="375.50" stroke="#000" stroke-width="1.0"/>
<text x="44.10" y="378.10" font-size="7.6" text-anchor="end" fill="#000" font-family='"Liberation Sans", sans-serif'>0.8</text>
<line x1="48.00" y1="362.75" x2="51.00" y2="362.75" stroke="#000" stroke-width="1.0"/>
<text x="44.10" y="365.35" font-size="7.6" text-anchor="end" fill="#000" font-family='"Liberation Sans", sans-serif'>1.0</text>
<line x1="48.00" y1="350.00" x2="51.00" y2="350.00" stroke="#000" stroke-width="1.0"/>
<text x="44.10" y="352.60" font-size="7.6" text-anchor="end" fill="#000" font-family='"Liberation Sans", sans-serif'>1.2</text>
<line x1="48.00" y1="426.50" x2="96.00" y2="426.50" stroke="#000" stroke-width="1.2"/>
<line x1="71.70" y1="426.50" x2="71.70" y2="428.70" stroke="#000" stroke-width="1.0"/>
<line x1="92.80" y1="426.50" x2="92.80" y2="428.70" stroke="#000" stroke-width="1.0"/>
<rect x="56.20" y="362.75" width="10.20" height="63.75" fill="#000"/>
<line x1="61.30" y1="362.75" x2="61.30" y2="359.56" stroke="#000" stroke-width="0.9"/>
<line x1="58.80" y1="359.56" x2="63.80" y2="359.56" stroke="#000" stroke-width="1.0"/>
<rect x="77.80" y="377.71" width="9.20" height="48.79" fill="#b0022c" stroke="#6e0a1c" stroke-width="0.6"/>
<line x1="82.40" y1="377.41" x2="82.40" y2="375.50" stroke="#000" stroke-width="0.9"/>
<line x1="79.90" y1="375.50" x2="84.90" y2="375.50" stroke="#000" stroke-width="1.0"/>
<path d="M61.30 354.00V349.10H82.10V365.90" fill="none" stroke="#000" stroke-width="1.0"/>
<circle cx="67.50" cy="342.50" r="1.15" fill="#000"/>
<circle cx="71.20" cy="342.50" r="1.15" fill="#000"/>
<circle cx="74.90" cy="342.50" r="1.15" fill="#000"/>
<text x="61.30" y="439.20" font-size="8.0" text-anchor="middle" fill="#000" font-family='"Liberation Sans", sans-serif'>Ctl</text>
<text x="81.90" y="439.20" font-size="8.0" text-anchor="middle" font-style="italic" fill="#000" font-family='"Liberation Sans", sans-serif'>Fbp2</text>
<text x="27.90" y="386.90" font-size="8.5" text-anchor="middle" fill="#000" font-family='"Liberation Sans", sans-serif' transform="rotate(-90 27.90 386.90)">Relative ATP levels</text>
<line x1="133.80" y1="428.70" x2="133.80" y2="347.00" stroke="#000" stroke-width="1.2"/>
<line x1="130.80" y1="426.50" x2="133.80" y2="426.50" stroke="#000" stroke-width="1.0"/>
<text x="126.80" y="429.10" font-size="7.6" text-anchor="end" fill="#000" font-family='"Liberation Sans", sans-serif'>0</text>
<line x1="130.80" y1="415.57" x2="133.80" y2="415.57" stroke="#000" stroke-width="1.0"/>
<text x="126.80" y="418.17" font-size="7.6" text-anchor="end" fill="#000" font-family='"Liberation Sans", sans-serif'>1</text>
<line x1="130.80" y1="404.64" x2="133.80" y2="404.64" stroke="#000" stroke-width="1.0"/>
<text x="126.80" y="407.24" font-size="7.6" text-anchor="end" fill="#000" font-family='"Liberation Sans", sans-serif'>2</text>
<line x1="130.80" y1="393.71" x2="133.80" y2="393.71" stroke="#000" stroke-width="1.0"/>
<text x="126.80" y="396.31" font-size="7.6" text-anchor="end" fill="#000" font-family='"Liberation Sans", sans-serif'>3</text>
<line x1="130.80" y1="382.79" x2="133.80" y2="382.79" stroke="#000" stroke-width="1.0"/>
<text x="126.80" y="385.39" font-size="7.6" text-anchor="end" fill="#000" font-family='"Liberation Sans", sans-serif'>4</text>
<line x1="130.80" y1="371.86" x2="133.80" y2="371.86" stroke="#000" stroke-width="1.0"/>
<text x="126.80" y="374.46" font-size="7.6" text-anchor="end" fill="#000" font-family='"Liberation Sans", sans-serif'>5</text>
<line x1="130.80" y1="360.93" x2="133.80" y2="360.93" stroke="#000" stroke-width="1.0"/>
<text x="126.80" y="363.53" font-size="7.6" text-anchor="end" fill="#000" font-family='"Liberation Sans", sans-serif'>6</text>
<line x1="130.80" y1="350.00" x2="133.80" y2="350.00" stroke="#000" stroke-width="1.0"/>
<text x="126.80" y="352.60" font-size="7.6" text-anchor="end" fill="#000" font-family='"Liberation Sans", sans-serif'>7</text>
<line x1="130.80" y1="426.50" x2="178.80" y2="426.50" stroke="#000" stroke-width="1.2"/>
<line x1="154.40" y1="426.50" x2="154.40" y2="428.70" stroke="#000" stroke-width="1.0"/>
<line x1="175.60" y1="426.50" x2="175.60" y2="428.70" stroke="#000" stroke-width="1.0"/>
<rect x="139.00" y="368.36" width="9.80" height="58.14" fill="#000"/>
<line x1="143.90" y1="368.36" x2="143.90" y2="357.10" stroke="#000" stroke-width="0.9"/>
<line x1="141.40" y1="357.10" x2="146.40" y2="357.10" stroke="#000" stroke-width="1.0"/>
<rect x="160.10" y="392.92" width="9.40" height="33.58" fill="#b0022c" stroke="#6e0a1c" stroke-width="0.6"/>
<line x1="164.80" y1="392.62" x2="164.80" y2="385.41" stroke="#000" stroke-width="0.9"/>
<line x1="162.30" y1="385.41" x2="167.30" y2="385.41" stroke="#000" stroke-width="1.0"/>
<path d="M143.90 352.90V347.70H164.80V379.60" fill="none" stroke="#000" stroke-width="1.0"/>
<circle cx="154.60" cy="342.50" r="1.15" fill="#000"/>
<text x="155.90" y="334.00" font-size="9.8" text-anchor="middle" font-weight="bold" fill="#000" font-family='"Liberation Sans", sans-serif'>S+T</text>
<text x="143.90" y="439.20" font-size="8.0" text-anchor="middle" fill="#000" font-family='"Liberation Sans", sans-serif'>Ctl</text>
<text x="165.30" y="439.20" font-size="8.0" text-anchor="middle" font-style="italic" fill="#000" font-family='"Liberation Sans", sans-serif'>Fbp2</text>
<text x="117.7" y="386.5" font-size="8.9" text-anchor="middle" fill="#000" font-family='"Liberation Sans", sans-serif' transform="rotate(-90 117.7 386.5)">Cell number (x10<tspan font-size="5.6" dy="-3.2">4</tspan><tspan dy="3.2">)</tspan></text>
<line x1="220.20" y1="428.70" x2="220.20" y2="347.20" stroke="#000" stroke-width="1.2"/>
<line x1="217.20" y1="426.50" x2="220.20" y2="426.50" stroke="#000" stroke-width="1.0"/>
<text x="214.00" y="429.10" font-size="7.6" text-anchor="end" fill="#000" font-family='"Liberation Sans", sans-serif'>0</text>
<line x1="217.20" y1="411.24" x2="220.20" y2="411.24" stroke="#000" stroke-width="1.0"/>
<text x="214.00" y="413.84" font-size="7.6" text-anchor="end" fill="#000" font-family='"Liberation Sans", sans-serif'>2</text>
<line x1="217.20" y1="395.98" x2="220.20" y2="395.98" stroke="#000" stroke-width="1.0"/>
<text x="214.00" y="398.58" font-size="7.6" text-anchor="end" fill="#000" font-family='"Liberation Sans", sans-serif'>4</text>
<line x1="217.20" y1="380.72" x2="220.20" y2="380.72" stroke="#000" stroke-width="1.0"/>
<text x="214.00" y="383.32" font-size="7.6" text-anchor="end" fill="#000" font-family='"Liberation Sans", sans-serif'>6</text>
<line x1="217.20" y1="365.46" x2="220.20" y2="365.46" stroke="#000" stroke-width="1.0"/>
<text x="214.00" y="368.06" font-size="7.6" text-anchor="end" fill="#000" font-family='"Liberation Sans", sans-serif'>8</text>
<line x1="217.20" y1="350.20" x2="220.20" y2="350.20" stroke="#000" stroke-width="1.0"/>
<text x="214.00" y="352.80" font-size="7.6" text-anchor="end" fill="#000" font-family='"Liberation Sans", sans-serif'>10</text>
<line x1="218.20" y1="418.87" x2="220.20" y2="418.87" stroke="#000" stroke-width="0.8"/>
<line x1="218.20" y1="403.61" x2="220.20" y2="403.61" stroke="#000" stroke-width="0.8"/>
<line x1="218.20" y1="388.35" x2="220.20" y2="388.35" stroke="#000" stroke-width="0.8"/>
<line x1="218.20" y1="373.09" x2="220.20" y2="373.09" stroke="#000" stroke-width="0.8"/>
<line x1="218.20" y1="357.83" x2="220.20" y2="357.83" stroke="#000" stroke-width="0.8"/>
<line x1="217.20" y1="426.50" x2="263.80" y2="426.50" stroke="#000" stroke-width="1.2"/>
<line x1="241.50" y1="426.50" x2="241.50" y2="428.70" stroke="#000" stroke-width="1.0"/>
<line x1="262.30" y1="426.50" x2="262.30" y2="428.70" stroke="#000" stroke-width="1.0"/>
<rect x="226.50" y="369.27" width="9.80" height="57.23" fill="#000"/>
<line x1="231.40" y1="369.27" x2="231.40" y2="355.16" stroke="#000" stroke-width="0.9"/>
<line x1="228.90" y1="355.16" x2="233.90" y2="355.16" stroke="#000" stroke-width="1.0"/>
<rect x="247.20" y="384.83" width="9.40" height="41.67" fill="#b0022c" stroke="#6e0a1c" stroke-width="0.6"/>
<line x1="251.90" y1="384.53" x2="251.90" y2="379.58" stroke="#000" stroke-width="0.9"/>
<line x1="249.40" y1="379.58" x2="254.40" y2="379.58" stroke="#000" stroke-width="1.0"/>
<path d="M231.40 350.90V347.40H251.90V374.70" fill="none" stroke="#000" stroke-width="1.0"/>
<circle cx="241.20" cy="342.50" r="1.15" fill="#000"/>
<text x="243.10" y="334.00" font-size="9.8" text-anchor="middle" font-weight="bold" fill="#000" font-family='"Liberation Sans", sans-serif'>S+T+IL-3</text>
<text x="231.40" y="439.20" font-size="8.0" text-anchor="middle" fill="#000" font-family='"Liberation Sans", sans-serif'>Ctl</text>
<text x="252.40" y="439.20" font-size="8.0" text-anchor="middle" font-style="italic" fill="#000" font-family='"Liberation Sans", sans-serif'>Fbp2</text>
<text x="199.1" y="386.5" font-size="8.9" text-anchor="middle" fill="#000" font-family='"Liberation Sans", sans-serif' transform="rotate(-90 199.1 386.5)">Cell number (x10<tspan font-size="5.6" dy="-3.2">5</tspan><tspan dy="3.2">)</tspan></text>
<line x1="313.00" y1="428.70" x2="313.00" y2="347.20" stroke="#000" stroke-width="1.2"/>
<line x1="310.00" y1="426.50" x2="313.00" y2="426.50" stroke="#000" stroke-width="1.0"/>
<text x="306.10" y="429.10" font-size="7.6" text-anchor="end" fill="#000" font-family='"Liberation Sans", sans-serif'>0</text>
<line x1="310.00" y1="413.78" x2="313.00" y2="413.78" stroke="#000" stroke-width="1.0"/>
<text x="306.10" y="416.38" font-size="7.6" text-anchor="end" fill="#000" font-family='"Liberation Sans", sans-serif'>200</text>
<line x1="310.00" y1="401.07" x2="313.00" y2="401.07" stroke="#000" stroke-width="1.0"/>
<text x="306.10" y="403.67" font-size="7.6" text-anchor="end" fill="#000" font-family='"Liberation Sans", sans-serif'>400</text>
<line x1="310.00" y1="388.35" x2="313.00" y2="388.35" stroke="#000" stroke-width="1.0"/>
<text x="306.10" y="390.95" font-size="7.6" text-anchor="end" fill="#000" font-family='"Liberation Sans", sans-serif'>600</text>
<line x1="310.00" y1="375.63" x2="313.00" y2="375.63" stroke="#000" stroke-width="1.0"/>
<text x="306.10" y="378.23" font-size="7.6" text-anchor="end" fill="#000" font-family='"Liberation Sans", sans-serif'>800</text>
<line x1="310.00" y1="362.92" x2="313.00" y2="362.92" stroke="#000" stroke-width="1.0"/>
<text x="306.10" y="365.52" font-size="7.6" text-anchor="end" fill="#000" font-family='"Liberation Sans", sans-serif'>1000</text>
<line x1="310.00" y1="350.20" x2="313.00" y2="350.20" stroke="#000" stroke-width="1.0"/>
<text x="306.10" y="352.80" font-size="7.6" text-anchor="end" fill="#000" font-family='"Liberation Sans", sans-serif'>1200</text>
<line x1="310.00" y1="426.50" x2="357.70" y2="426.50" stroke="#000" stroke-width="1.2"/>
<line x1="333.90" y1="426.50" x2="333.90" y2="428.70" stroke="#000" stroke-width="1.0"/>
<line x1="356.60" y1="426.50" x2="356.60" y2="428.70" stroke="#000" stroke-width="1.0"/>
<rect x="320.40" y="425.99" width="7.20" height="0.51" fill="#000"/>
<rect x="339.50" y="358.64" width="9.60" height="67.86" fill="#b0022c" stroke="#6e0a1c" stroke-width="0.6"/>
<line x1="344.30" y1="358.34" x2="344.30" y2="353.32" stroke="#000" stroke-width="0.9"/>
<line x1="341.80" y1="353.32" x2="346.80" y2="353.32" stroke="#000" stroke-width="1.0"/>
<path d="M323.10 417.70V344.00H344.30V350.90" fill="none" stroke="#000" stroke-width="1.0"/>
<circle cx="330.50" cy="339.30" r="1.15" fill="#000"/>
<circle cx="334.40" cy="339.30" r="1.15" fill="#000"/>
<circle cx="338.30" cy="339.30" r="1.15" fill="#000"/>
<text x="323.40" y="439.20" font-size="8.0" text-anchor="middle" fill="#000" font-family='"Liberation Sans", sans-serif'>Ctl</text>
<text x="344.60" y="439.20" font-size="8.0" text-anchor="middle" font-style="italic" fill="#000" font-family='"Liberation Sans", sans-serif'>Fbp2</text>
<text x="283.0" y="386.5" font-size="8.45" text-anchor="middle" fill="#000" font-family='"Liberation Sans", sans-serif' transform="rotate(-90 283.0 386.5)"><tspan font-style="italic">Fbp2</tspan> expression</text>
<text x="7.50" y="465.10" font-size="12.3" text-anchor="start" font-weight="bold" fill="#000" font-family='"Liberation Sans", sans-serif'>E</text>
<line x1="52.50" y1="559.20" x2="52.50" y2="482.60" stroke="#000" stroke-width="1.2"/>
<line x1="49.50" y1="559.20" x2="52.50" y2="559.20" stroke="#000" stroke-width="1.0"/>
<text x="45.60" y="561.80" font-size="7.6" text-anchor="end" fill="#000" font-family='"Liberation Sans", sans-serif'>0</text>
<line x1="49.50" y1="544.48" x2="52.50" y2="544.48" stroke="#000" stroke-width="1.0"/>
<text x="45.60" y="547.08" font-size="7.6" text-anchor="end" fill="#000" font-family='"Liberation Sans", sans-serif'>20</text>
<line x1="49.50" y1="529.76" x2="52.50" y2="529.76" stroke="#000" stroke-width="1.0"/>
<text x="45.60" y="532.36" font-size="7.6" text-anchor="end" fill="#000" font-family='"Liberation Sans", sans-serif'>40</text>
<line x1="49.50" y1="515.04" x2="52.50" y2="515.04" stroke="#000" stroke-width="1.0"/>
<text x="45.60" y="517.64" font-size="7.6" text-anchor="end" fill="#000" font-family='"Liberation Sans", sans-serif'>60</text>
<line x1="49.50" y1="500.32" x2="52.50" y2="500.32" stroke="#000" stroke-width="1.0"/>
<text x="45.60" y="502.92" font-size="7.6" text-anchor="end" fill="#000" font-family='"Liberation Sans", sans-serif'>80</text>
<line x1="49.50" y1="485.60" x2="52.50" y2="485.60" stroke="#000" stroke-width="1.0"/>
<text x="45.60" y="488.20" font-size="7.6" text-anchor="end" fill="#000" font-family='"Liberation Sans", sans-serif'>100</text>
<line x1="49.50" y1="559.20" x2="255.00" y2="559.20" stroke="#000" stroke-width="1.2"/>
<rect x="58.90" y="521.52" width="10.30" height="37.68" fill="#000"/>
<line x1="64.05" y1="521.52" x2="64.05" y2="509.45" stroke="#444" stroke-width="0.9"/>
<line x1="61.85" y1="509.45" x2="66.25" y2="509.45" stroke="#000" stroke-width="1.0"/>
<rect x="71.50" y="530.64" width="10.50" height="28.56" fill="#c6c6c6"/>
<line x1="76.75" y1="530.64" x2="76.75" y2="528.29" stroke="#333" stroke-width="0.9"/>
<line x1="74.55" y1="528.29" x2="78.95" y2="528.29" stroke="#000" stroke-width="1.0"/>
<rect x="71.50" y="538.89" width="10.50" height="20.31" fill="#000"/>
<line x1="76.75" y1="538.89" x2="76.75" y2="534.99" stroke="#000" stroke-width="0.9"/>
<line x1="74.55" y1="534.99" x2="78.95" y2="534.99" stroke="#000" stroke-width="1.0"/>
<rect x="98.00" y="521.22" width="10.80" height="37.98" fill="#000"/>
<line x1="103.40" y1="521.22" x2="103.40" y2="516.95" stroke="#444" stroke-width="0.9"/>
<line x1="101.20" y1="516.95" x2="105.60" y2="516.95" stroke="#000" stroke-width="1.0"/>
<rect x="111.20" y="518.13" width="10.30" height="41.07" fill="#c6c6c6"/>
<line x1="116.35" y1="518.13" x2="116.35" y2="510.40" stroke="#333" stroke-width="0.9"/>
<line x1="114.15" y1="510.40" x2="118.55" y2="510.40" stroke="#000" stroke-width="1.0"/>
<rect x="111.20" y="546.98" width="10.30" height="12.22" fill="#000"/>
<line x1="116.35" y1="546.98" x2="116.35" y2="541.32" stroke="#000" stroke-width="0.9"/>
<line x1="114.15" y1="541.32" x2="118.55" y2="541.32" stroke="#000" stroke-width="1.0"/>
<rect x="138.10" y="535.94" width="10.70" height="23.26" fill="#000"/>
<line x1="143.45" y1="535.94" x2="143.45" y2="530.50" stroke="#444" stroke-width="0.9"/>
<line x1="141.25" y1="530.50" x2="145.65" y2="530.50" stroke="#000" stroke-width="1.0"/>
<rect x="150.40" y="519.09" width="10.80" height="40.11" fill="#c6c6c6"/>
<line x1="155.80" y1="519.09" x2="155.80" y2="506.80" stroke="#333" stroke-width="0.9"/>
<line x1="153.60" y1="506.80" x2="158.00" y2="506.80" stroke="#000" stroke-width="1.0"/>
<rect x="150.40" y="549.26" width="10.80" height="9.94" fill="#000"/>
<rect x="177.30" y="543.89" width="10.00" height="15.31" fill="#000"/>
<line x1="182.30" y1="543.89" x2="182.30" y2="539.84" stroke="#444" stroke-width="0.9"/>
<line x1="180.10" y1="539.84" x2="184.50" y2="539.84" stroke="#000" stroke-width="1.0"/>
<rect x="190.40" y="538.74" width="10.30" height="20.46" fill="#c6c6c6"/>
<line x1="195.55" y1="538.74" x2="195.55" y2="535.35" stroke="#333" stroke-width="0.9"/>
<line x1="193.35" y1="535.35" x2="197.75" y2="535.35" stroke="#000" stroke-width="1.0"/>
<rect x="190.40" y="557.29" width="10.30" height="1.91" fill="#000"/>
<line x1="195.55" y1="557.29" x2="195.55" y2="555.52" stroke="#000" stroke-width="0.9"/>
<line x1="193.35" y1="555.52" x2="197.75" y2="555.52" stroke="#000" stroke-width="1.0"/>
<rect x="216.30" y="549.04" width="11.00" height="10.16" fill="#000"/>
<line x1="221.80" y1="549.04" x2="221.80" y2="546.32" stroke="#444" stroke-width="0.9"/>
<line x1="219.60" y1="546.32" x2="224.00" y2="546.32" stroke="#000" stroke-width="1.0"/>
<rect x="229.40" y="531.67" width="10.60" height="27.53" fill="#c6c6c6"/>
<line x1="234.70" y1="531.67" x2="234.70" y2="522.99" stroke="#333" stroke-width="0.9"/>
<line x1="232.50" y1="522.99" x2="236.90" y2="522.99" stroke="#000" stroke-width="1.0"/>
<rect x="138.10" y="533.70" width="10.70" height="2.60" fill="#c6c6c6"/>
<rect x="216.60" y="550.80" width="10.40" height="1.30" fill="#b8b8b8"/>
<polyline points="70.60,485.10 109.30,490.60 148.50,490.00 188.50,488.10 230.00,494.60" fill="none" stroke="#6a9bcf" stroke-width="1.2"/>
<circle cx="70.60" cy="485.10" r="1.9" fill="#fff" stroke="#6a9bcf" stroke-width="0.9"/>
<line x1="109.30" y1="489.10" x2="109.30" y2="492.10" stroke="#000" stroke-width="0.9"/>
<line x1="107.90" y1="489.10" x2="110.70" y2="489.10" stroke="#000" stroke-width="0.9"/>
<line x1="107.90" y1="492.10" x2="110.70" y2="492.10" stroke="#000" stroke-width="0.9"/>
<circle cx="109.30" cy="490.60" r="1.9" fill="#fff" stroke="#6a9bcf" stroke-width="0.9"/>
<line x1="148.50" y1="483.60" x2="148.50" y2="496.40" stroke="#000" stroke-width="0.9"/>
<line x1="147.10" y1="483.60" x2="149.90" y2="483.60" stroke="#000" stroke-width="0.9"/>
<line x1="147.10" y1="496.40" x2="149.90" y2="496.40" stroke="#000" stroke-width="0.9"/>
<circle cx="148.50" cy="490.00" r="1.9" fill="#fff" stroke="#6a9bcf" stroke-width="0.9"/>
<circle cx="188.50" cy="488.10" r="1.9" fill="#fff" stroke="#6a9bcf" stroke-width="0.9"/>
<line x1="230.00" y1="489.80" x2="230.00" y2="499.40" stroke="#000" stroke-width="0.9"/>
<line x1="228.60" y1="489.80" x2="231.40" y2="489.80" stroke="#000" stroke-width="0.9"/>
<line x1="228.60" y1="499.40" x2="231.40" y2="499.40" stroke="#000" stroke-width="0.9"/>
<circle cx="230.00" cy="494.60" r="1.9" fill="#fff" stroke="#6a9bcf" stroke-width="0.9"/>
<line x1="110.00" y1="527.00" x2="110.00" y2="544.40" stroke="#111" stroke-width="1.0"/>
<line x1="108.60" y1="527.00" x2="111.40" y2="527.00" stroke="#111" stroke-width="1.0"/>
<line x1="108.60" y1="544.40" x2="111.40" y2="544.40" stroke="#111" stroke-width="1.0"/>
<line x1="149.30" y1="528.50" x2="149.30" y2="548.50" stroke="#111" stroke-width="1.0"/>
<line x1="147.90" y1="528.50" x2="150.70" y2="528.50" stroke="#111" stroke-width="1.0"/>
<line x1="147.90" y1="548.50" x2="150.70" y2="548.50" stroke="#111" stroke-width="1.0"/>
<line x1="188.10" y1="543.30" x2="188.10" y2="554.50" stroke="#111" stroke-width="1.0"/>
<line x1="186.70" y1="543.30" x2="189.50" y2="543.30" stroke="#111" stroke-width="1.0"/>
<line x1="186.70" y1="554.50" x2="189.50" y2="554.50" stroke="#111" stroke-width="1.0"/>
<polyline points="70.60,503.20 110.00,535.70 149.30,538.50 188.10,548.90 230.80,558.10" fill="none" stroke="#98103c" stroke-width="1.7" stroke-linejoin="round"/>
<line x1="69.00" y1="501.90" x2="72.20" y2="501.90" stroke="#98103c" stroke-width="0.9"/>
<line x1="69.00" y1="504.50" x2="72.20" y2="504.50" stroke="#98103c" stroke-width="0.9"/>
<line x1="68.90" y1="501.50" x2="72.30" y2="504.90" stroke="#98103c" stroke-width="1.0"/>
<line x1="68.90" y1="504.90" x2="72.30" y2="501.50" stroke="#98103c" stroke-width="1.0"/>
<line x1="108.30" y1="534.00" x2="111.70" y2="537.40" stroke="#98103c" stroke-width="1.0"/>
<line x1="108.30" y1="537.40" x2="111.70" y2="534.00" stroke="#98103c" stroke-width="1.0"/>
<line x1="147.60" y1="536.80" x2="151.00" y2="540.20" stroke="#98103c" stroke-width="1.0"/>
<line x1="147.60" y1="540.20" x2="151.00" y2="536.80" stroke="#98103c" stroke-width="1.0"/>
<line x1="186.40" y1="547.20" x2="189.80" y2="550.60" stroke="#98103c" stroke-width="1.0"/>
<line x1="186.40" y1="550.60" x2="189.80" y2="547.20" stroke="#98103c" stroke-width="1.0"/>
<line x1="229.10" y1="556.40" x2="232.50" y2="559.80" stroke="#98103c" stroke-width="1.0"/>
<line x1="229.10" y1="559.80" x2="232.50" y2="556.40" stroke="#98103c" stroke-width="1.0"/>
<text x="77.00" y="481.80" font-size="7.4" text-anchor="start" fill="#8ba3c4" style="stroke:#8ba3c4" font-family='"Liberation Sans", sans-serif'>Control</text>
<text x="78.00" y="503.50" font-size="7.3" text-anchor="start" font-style="italic" fill="#9e1d4a" style="stroke:#9e1d4a" font-family='"Liberation Sans", sans-serif'>Fbp2</text>
<rect x="117.40" y="469.80" width="7.10" height="7.00" fill="#000"/>
<text x="127.6" y="477.0" font-size="7.1" letter-spacing="0.33" fill="#000" font-family='"Liberation Sans", sans-serif'>CD45.2<tspan font-size="4.8" dy="-2.8">+</tspan><tspan dy="2.8">GFP</tspan><tspan font-size="4.8" dy="-2.8">+</tspan></text>
<rect x="186.50" y="469.80" width="7.10" height="7.00" fill="#c6c6c6"/>
<text x="196.9" y="477.0" font-size="7.1" letter-spacing="0.33" fill="#000" font-family='"Liberation Sans", sans-serif'>CD45.2<tspan font-size="4.8" dy="-2.8">+</tspan><tspan dy="2.8">GFP</tspan><tspan font-size="4.8" dy="-2.8">&#8211;</tspan></text>
<text x="68.55" y="567.40" font-size="7.5" text-anchor="end" fill="#000" font-family='"Liberation Sans", sans-serif' transform="rotate(-45 68.55 567.40)">Ctl</text>
<text x="82.05" y="567.20" font-size="7.8" text-anchor="end" font-style="italic" fill="#000" font-family='"Liberation Sans", sans-serif' transform="rotate(-45 82.05 567.20)">Fbp2</text>
<text x="107.90" y="567.40" font-size="7.5" text-anchor="end" fill="#000" font-family='"Liberation Sans", sans-serif' transform="rotate(-45 107.90 567.40)">Ctl</text>
<text x="121.65" y="567.20" font-size="7.8" text-anchor="end" font-style="italic" fill="#000" font-family='"Liberation Sans", sans-serif' transform="rotate(-45 121.65 567.20)">Fbp2</text>
<text x="147.95" y="567.40" font-size="7.5" text-anchor="end" fill="#000" font-family='"Liberation Sans", sans-serif' transform="rotate(-45 147.95 567.40)">Ctl</text>
<text x="161.10" y="567.20" font-size="7.8" text-anchor="end" font-style="italic" fill="#000" font-family='"Liberation Sans", sans-serif' transform="rotate(-45 161.10 567.20)">Fbp2</text>
<text x="186.80" y="567.40" font-size="7.5" text-anchor="end" fill="#000" font-family='"Liberation Sans", sans-serif' transform="rotate(-45 186.80 567.40)">Ctl</text>
<text x="200.85" y="567.20" font-size="7.8" text-anchor="end" font-style="italic" fill="#000" font-family='"Liberation Sans", sans-serif' transform="rotate(-45 200.85 567.20)">Fbp2</text>
<text x="226.30" y="567.40" font-size="7.5" text-anchor="end" fill="#000" font-family='"Liberation Sans", sans-serif' transform="rotate(-45 226.30 567.40)">Ctl</text>
<text x="240.00" y="567.20" font-size="7.8" text-anchor="end" font-style="italic" fill="#000" font-family='"Liberation Sans", sans-serif' transform="rotate(-45 240.00 567.20)">Fbp2</text>
<text x="67.70" y="591.80" font-size="8.0" text-anchor="middle" fill="#000" font-family='"Liberation Sans", sans-serif'>4</text>
<text x="107.70" y="591.80" font-size="8.0" text-anchor="middle" fill="#000" font-family='"Liberation Sans", sans-serif'>12</text>
<text x="148.90" y="591.80" font-size="8.0" text-anchor="middle" fill="#000" font-family='"Liberation Sans", sans-serif'>16</text>
<text x="187.30" y="591.80" font-size="8.0" text-anchor="middle" fill="#000" font-family='"Liberation Sans", sans-serif'>4</text>
<text x="224.00" y="591.80" font-size="8.0" text-anchor="middle" fill="#000" font-family='"Liberation Sans", sans-serif'>12 (wk)</text>
<line x1="56.20" y1="594.90" x2="164.00" y2="594.90" stroke="#000" stroke-width="1.1"/>
<line x1="174.30" y1="594.90" x2="253.50" y2="594.90" stroke="#000" stroke-width="1.1"/>
<text x="110.00" y="606.40" font-size="8.2" text-anchor="middle" fill="#000" font-family='"Liberation Sans", sans-serif'>1st BMT</text>
<text x="213.30" y="606.40" font-size="8.2" text-anchor="middle" fill="#000" font-family='"Liberation Sans", sans-serif'>2nd BMT</text>
<text x="26.80" y="520.70" font-size="9.05" text-anchor="middle" fill="#000" font-family='"Liberation Sans", sans-serif' transform="rotate(-90 26.80 520.70)">Chimerism (%)</text>
<rect x="0" y="0" width="1.3" height="614" fill="#000"/>
<rect x="0" y="0" width="520" height="1.4" fill="#000"/>
<rect x="518.3" y="0" width="1.7" height="614" fill="#000"/>
<rect x="0" y="612.3" width="520" height="1.7" fill="#000"/>
</svg>
</body></html>
